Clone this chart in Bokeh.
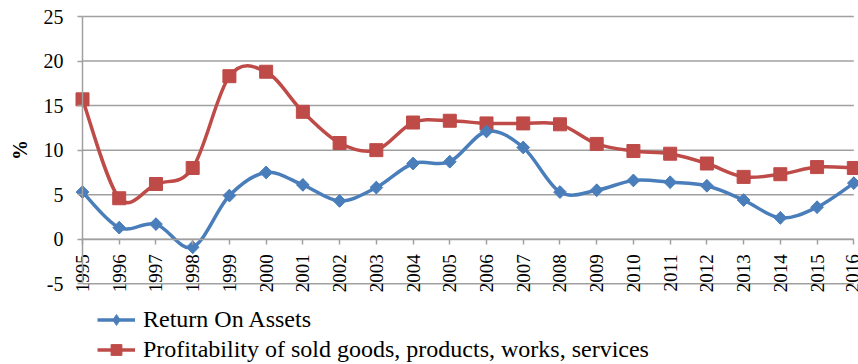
import numpy as np
from bokeh.plotting import figure
from bokeh.models import FixedTicker, Legend, LegendItem, Range1d
from bokeh.embed import file_html
from bokeh.resources import INLINE

# ---- data ----
years = list(range(1995, 2017))
roa = [5.3, 1.3, 1.7, -0.9, 4.9, 7.5, 6.1, 4.3, 5.8, 8.5, 8.7,
       12.1, 10.3, 5.3, 5.5, 6.6, 6.4, 6.0, 4.4, 2.4, 3.6, 6.3]
prof = [15.7, 4.6, 6.2, 8.0, 18.3, 18.8, 14.3, 10.8, 10.0, 13.1, 13.3,
        13.0, 13.0, 12.9, 10.7, 9.9, 9.6, 8.5, 7.0, 7.3, 8.1, 8.0]
y_ticks = [-5, 0, 5, 10, 15, 20, 25]
y_tick_labels = ["-5", "0", "5", "10", "15", "20", "25"]
series_names = ["Return On Assets",
                "Profitability of sold goods, products, works, services"]
y_label = "%"

BLUE = "#4a7ebb"
RED = "#be4b48"
GRID = "#a0a0a0"
FONT = "Liberation Serif"

W, H = 858, 364
# pixel placement of the plotting area inside the page
PX_LEFT, PX_RIGHT = 82.0, 853.3      # first / last category
PX_TOP, PX_BOTTOM = 16.0, 283.3      # top / bottom y tick


def smooth_segments(xs, ys, t=1.0 / 6.0):
    """Control points for a smoothed (Catmull-Rom like) curve through the data."""
    X = np.asarray(xs, float)
    Y = np.asarray(ys, float)
    n = len(X)
    Xp = np.concatenate([[X[0]], X, [X[-1]]])
    Yp = np.concatenate([[Y[0]], Y, [Y[-1]]])
    return dict(
        x0=X[:-1], y0=Y[:-1], x1=X[1:], y1=Y[1:],
        cx0=X[:-1] + (Xp[2:n + 1] - Xp[0:n - 1]) * t,
        cy0=Y[:-1] + (Yp[2:n + 1] - Yp[0:n - 1]) * t,
        cx1=X[1:] - (Xp[3:n + 2] - Xp[1:n]) * t,
        cy1=Y[1:] - (Yp[3:n + 2] - Yp[1:n]) * t,
    )


# ranges chosen so the frame fills the whole page
xspan = years[-1] - years[0]
xs_px = (PX_RIGHT - PX_LEFT) / xspan
x_start = years[0] - PX_LEFT / xs_px
x_end = years[-1] + (W - PX_RIGHT) / xs_px
yspan = y_ticks[-1] - y_ticks[0]
ys_px = (PX_BOTTOM - PX_TOP) / yspan
y_end = y_ticks[-1] + PX_TOP / ys_px
y_start = y_ticks[0] - (H - PX_BOTTOM) / ys_px

p = figure(width=W, height=H, output_backend="svg", toolbar_location=None,
           x_range=Range1d(x_start, x_end), y_range=Range1d(y_start, y_end),
           min_border=0, min_border_left=0, min_border_right=0,
           min_border_top=0, min_border_bottom=0)
p.outline_line_color = None
p.grid.visible = False
p.background_fill_color = "white"
p.border_fill_color = "white"

# horizontal gridlines between first and last category
p.segment(x0=[years[0]] * len(y_ticks), x1=[years[-1]] * len(y_ticks),
          y0=y_ticks, y1=y_ticks, line_color=GRID, line_width=1.5)

# x axis crossing at 0
xa = p.xaxis[0]
xa.fixed_location = 0
xa.bounds = (years[0], years[-1])
xa.ticker = FixedTicker(ticks=years)
xa.major_label_orientation = np.pi / 2
xa.axis_line_color = GRID
xa.axis_line_width = 1.5
xa.major_tick_line_color = GRID
xa.major_tick_line_width = 1.5
xa.major_tick_out = 5
xa.major_tick_in = 0
xa.minor_tick_line_color = None
xa.major_label_standoff = 10
xa.major_label_text_font = FONT
xa.major_label_text_font_size = "19px"
xa.major_label_text_color = "black"

# y axis at the first category
ya = p.yaxis[0]
ya.fixed_location = years[0]
ya.bounds = (y_ticks[0], y_ticks[-1])
ya.ticker = FixedTicker(ticks=y_ticks)
ya.major_label_overrides = {t: s for t, s in zip(y_ticks, y_tick_labels)}
ya.axis_line_color = GRID
ya.axis_line_width = 1.5
ya.major_tick_line_color = GRID
ya.major_tick_line_width = 1.5
ya.major_tick_out = 5
ya.major_tick_in = 0
ya.minor_tick_line_color = None
ya.major_label_standoff = 14
ya.major_label_text_font = FONT
ya.major_label_text_font_size = "20px"
ya.major_label_text_color = "black"
ya.axis_label = y_label
ya.axis_label_text_font = FONT
ya.axis_label_text_font_style = "bold"
ya.axis_label_text_font_size = "20px"
ya.axis_label_text_color = "black"
ya.axis_label_standoff = 10

# smoothed lines
r_blue_line = p.bezier(line_color=BLUE, line_width=3.5,
                       **smooth_segments(years, roa))
r_red_line = p.bezier(line_color=RED, line_width=3.5,
                      **smooth_segments(years, prof))

r_red_pts = p.scatter(years, prof, marker="square", size=13,
                      fill_color=RED, line_color=RED)
# diamond markers (also used for the legend key), covered by the rotated squares
r_blue_key = p.scatter(years, roa, marker="diamond", size=12,
                       fill_color=BLUE, line_color=BLUE)
r_blue_pts = p.scatter(years, roa, marker="square", size=9, angle=np.pi / 4,
                       fill_color=BLUE, line_color=BLUE)

legend = Legend(items=[
    LegendItem(label=series_names[0], renderers=[r_blue_line, r_blue_key]),
    LegendItem(label=series_names[1], renderers=[r_red_line, r_red_pts]),
], location=(97, 1))
legend.border_line_color = None
legend.background_fill_alpha = 0
legend.label_text_font = FONT
legend.label_text_font_size = "24px"
legend.label_text_color = "black"
legend.glyph_width = 38
legend.glyph_height = 27
legend.label_height = 27
legend.spacing = 3
legend.padding = 0
legend.margin = 0
legend.label_standoff = 8
p.add_layout(legend, "center")

open("out.html", "w").write(file_html(p, INLINE))
